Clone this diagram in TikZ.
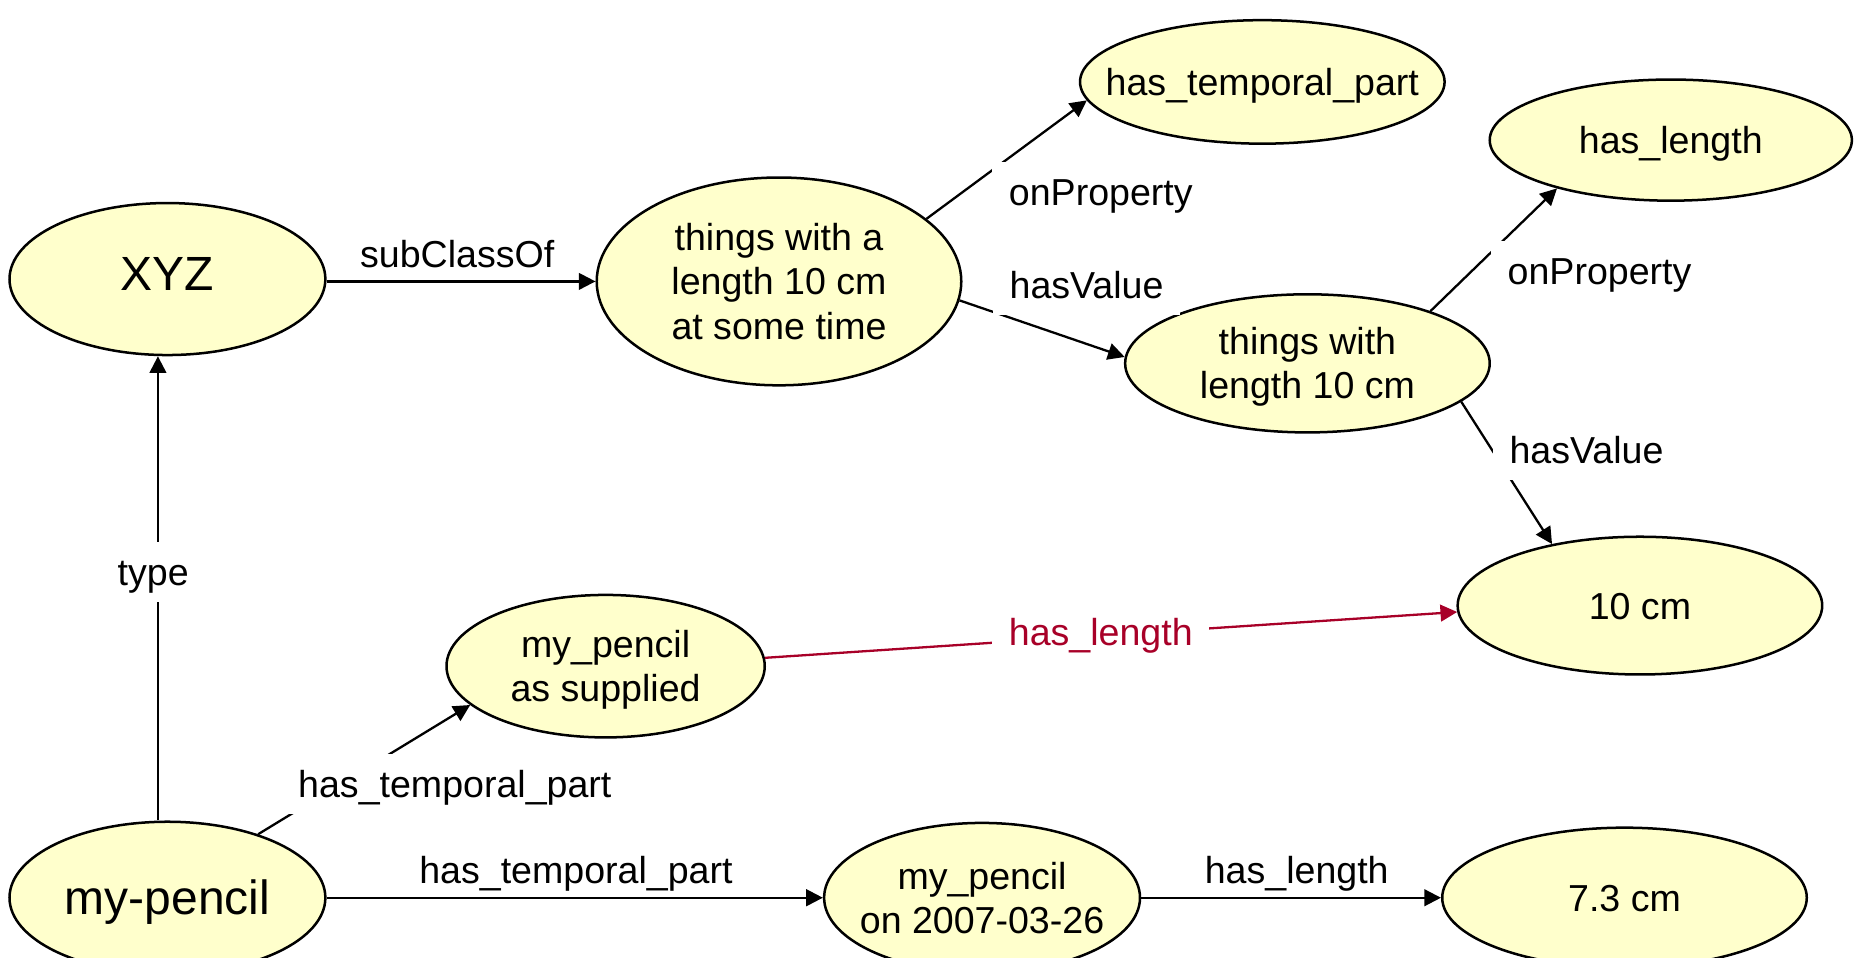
\documentclass[tikz,border=0pt]{standalone}
\usepackage{fontspec}
\setmainfont{Liberation Sans}
\usetikzlibrary{shapes.geometric,arrows.meta}
\definecolor{nodefill}{RGB}{255,255,204}
\definecolor{linkred}{RGB}{168,0,40}
% centred text of zero width, so the ellipse keeps its given size;
% the optional extra height sets the text a little lower in the ellipse
\newcommand\ctr[2][2.2pt]{\makebox[0pt]{\raisebox{0pt}[\dimexpr\height+#1\relax][\depth]{\begin{tabular}{@{}c@{}}#2\end{tabular}}}}
\tikzset{
  concept/.style={ellipse, draw=black, line width=0.6pt, fill=nodefill,
    inner sep=0pt, font=\fontsize{9}{10.6}\selectfont},
  bigconcept/.style={concept, font=\fontsize{11.5}{13.5}\selectfont},
  arr/.style={line width=0.55pt, -{Triangle[length=4pt,width=4pt]}},
  lbl/.style={fill=white, inner xsep=4pt, inner ysep=3pt,
    font=\fontsize{9}{10.6}\selectfont, text height=7.4pt, text depth=1.0pt},
}
\begin{document}
\begin{tikzpicture}[x=0.1mm, y=-0.1mm]
  \useasboundingbox (0,0) rectangle (1568,806);
  \clip (0,0) rectangle (1568,806);

  % classes and individuals
  \node[bigconcept, minimum width=26.6mm, minimum height=12.8mm] (xyz) at (141,235) {\ctr[0pt]{XYZ}};
  \node[concept, minimum width=30.7mm, minimum height=17.5mm] (t1) at (656,237)
    {\ctr{things with a\\length 10 cm\\at some time}};
  \node[concept, minimum width=30.7mm, minimum height=10.4mm] (htp) at (1063,69) {\ctr{has\_temporal\_part}};
  \node[concept, minimum width=30.5mm, minimum height=10.2mm] (hl) at (1407,118) {\ctr{has\_length}};
  \node[concept, minimum width=30.7mm, minimum height=11.2mm] (twl) at (1101,306)
    {\ctr{things with\\length 10 cm}};
  \node[concept, minimum width=30.7mm, minimum height=11.6mm] (ten) at (1381,510) {\ctr{10 cm}};
  \node[concept, minimum width=26.8mm, minimum height=12.0mm] (mps) at (510,561)
    {\ctr{my\_pencil\\as supplied}};
  \node[bigconcept, minimum width=26.6mm, minimum height=12.8mm] (mp) at (141,756) {\ctr[2.8pt]{my-pencil}};
  \node[concept, minimum width=26.6mm, minimum height=12.6mm] (mpo) at (827,756)
    {\ctr{my\_pencil\\on 2007-03-26}};
  \node[concept, minimum width=30.7mm, minimum height=11.8mm] (seven) at (1368,756) {\ctr{7.3 cm}};

  \coordinate (tx) at (133,0);

  % relations
  \draw[arr] (xyz.east |- t1.west) -- (t1.west)
    node[lbl, fill=none] at (385,214) {subClassOf};
  \draw[arr] (mp.north -| tx) -- (xyz.south -| tx)
    node[lbl] at (129,482) {type};
  \draw[arr] (t1.23) -- (htp.186.5)
    node[lbl] at (927,162) {onProperty};
  \draw[arr] (t1.354) -- (twl.178)
    node[lbl] at (915,240) {hasValue};
  \draw[arr] (twl.23) -- (hl.203)
    node[lbl] at (1347,228) {onProperty};
  \draw[arr] (twl.346) -- (ten.145)
    node[lbl] at (1336,379) {hasValue};
  \draw[arr, draw=linkred, fill=linkred] (mps.3) -- (ten.182)
    node[lbl, text=linkred] at (927,532) {has\_length};
  \draw[arr] (mp.35) -- (mps.196.5)
    node[lbl] at (383,660) {has\_temporal\_part};
  \draw[arr] (mp.east) -- (mpo.west)
    node[lbl, fill=none] at (485,733) {has\_temporal\_part};
  \draw[arr] (mpo.east) -- (seven.west)
    node[lbl, fill=none] at (1092,733) {has\_length};
\end{tikzpicture}
\end{document}
